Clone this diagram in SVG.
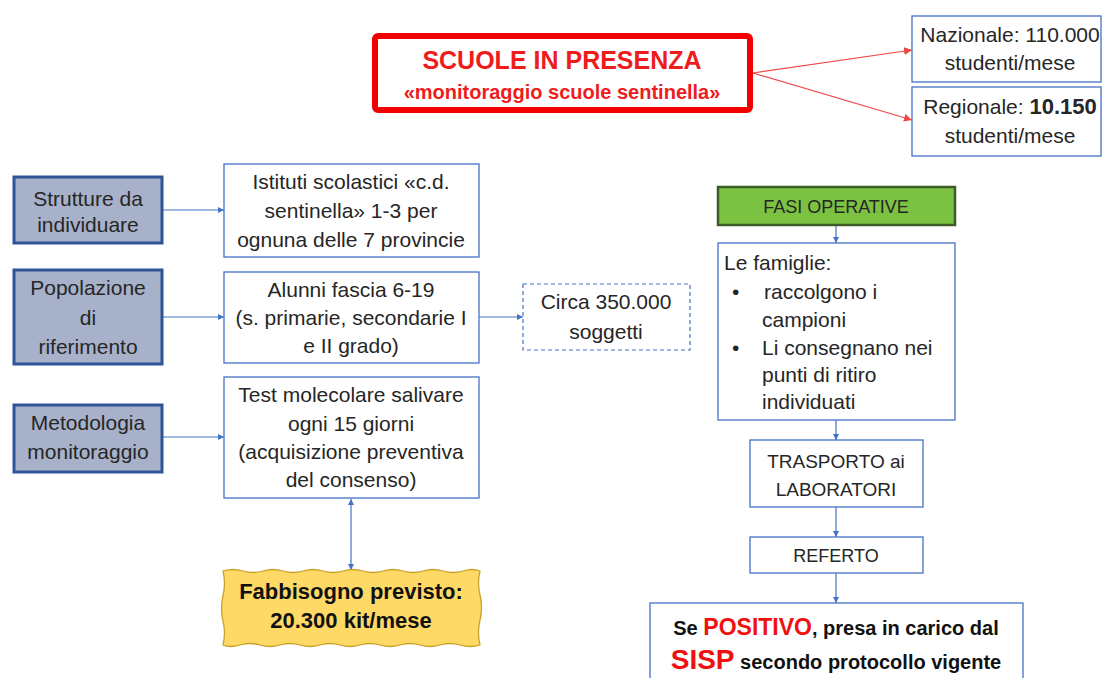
<svg xmlns="http://www.w3.org/2000/svg" width="1104" height="678" viewBox="0 0 1104 678">
<style>
text{font-family:"Liberation Sans",Arial,sans-serif;fill:#262626;text-anchor:middle}
.b{fill:#fff;stroke:#4472C4;stroke-width:1.3}
.g{fill:#A7B1CA;stroke:#2F5597;stroke-width:3}
.t21{font-size:21px}
.c{stroke:#4472C4;stroke-width:1.2;fill:none;marker-end:url(#ab)}
.r{stroke:#F04848;stroke-width:1.2;fill:none;marker-end:url(#ar)}
</style>
<defs>
<marker id="ab" viewBox="0 0 10 10" refX="10" refY="5" markerWidth="6" markerHeight="6" markerUnits="userSpaceOnUse" orient="auto-start-reverse"><path d="M0,0L10,5L0,10z" fill="#4472C4"/></marker>
<marker id="ar" viewBox="0 0 10 10" refX="10" refY="5" markerWidth="8" markerHeight="8" markerUnits="userSpaceOnUse" orient="auto"><path d="M0,0L10,5L0,10z" fill="#F04848"/></marker>
</defs>
<rect width="1104" height="678" fill="#fff"/>
<g id="connectors">
<path class="r" d="M753,73L912,50"/>
<path class="r" d="M753,73L912,120"/>
<path class="c" d="M162,210H224"/>
<path class="c" d="M162,317H224"/>
<path class="c" d="M162,437H224"/>
<path class="c" d="M479,317H523"/>
<path class="c" d="M351,499V570" style="marker-start:url(#ab)"/>
<path class="c" d="M836,225V243"/>
<path class="c" d="M836,420V440"/>
<path class="c" d="M836,507V537"/>
<path class="c" d="M836,573V603"/>
</g>
<g id="title">
<rect x="375" y="36" width="375" height="74" fill="#fff" stroke="#F20000" stroke-width="6" rx="3"/>
<text x="562" y="69" style="font-size:25px;font-weight:bold;fill:#EE1C1C">SCUOLE IN PRESENZA</text>
<text x="562" y="99" style="font-size:20px;font-weight:bold;fill:#EE1C1C">«monitoraggio scuole sentinella»</text>
</g>
<g id="nazionale">
<rect class="b" x="912" y="16" width="189" height="66"/>
<text class="t21" x="1010" y="42">Nazionale: 110.000</text>
<text class="t21" x="1010" y="70">studenti/mese</text>
</g>
<g id="regionale">
<rect class="b" x="912" y="87" width="189" height="69"/>
<text class="t21" x="1010" y="114">Regionale: <tspan style="font-weight:bold;font-size:22px">10.150</tspan></text>
<text class="t21" x="1010" y="143">studenti/mese</text>
</g>
<g id="strutture">
<rect class="g" x="14" y="177" width="148" height="66"/>
<text class="t21" x="88" y="206">Strutture da</text>
<text class="t21" x="88" y="232">individuare</text>
</g>
<g id="popolazione">
<rect class="g" x="14" y="270" width="148" height="94"/>
<text class="t21" x="88" y="295">Popolazione</text>
<text class="t21" x="88" y="325">di</text>
<text class="t21" x="88" y="354">riferimento</text>
</g>
<g id="metodologia">
<rect class="g" x="14" y="405" width="148" height="67"/>
<text class="t21" x="88" y="430">Metodologia</text>
<text class="t21" x="88" y="459">monitoraggio</text>
</g>
<g id="istituti">
<rect class="b" x="224" y="164" width="255" height="93"/>
<text class="t21" x="351" y="189">Istituti scolastici «c.d.</text>
<text class="t21" x="351" y="218">sentinella» 1-3 per</text>
<text class="t21" x="351" y="247">ognuna delle 7 provincie</text>
</g>
<g id="alunni">
<rect class="b" x="224" y="272" width="255" height="91"/>
<text class="t21" x="351" y="297">Alunni fascia 6-19</text>
<text class="t21" x="351" y="325">(s. primarie, secondarie I</text>
<text class="t21" x="351" y="353">e II grado)</text>
</g>
<g id="test">
<rect class="b" x="224" y="377" width="255" height="121"/>
<text class="t21" x="351" y="402">Test molecolare salivare</text>
<text class="t21" x="351" y="431">ogni 15 giorni</text>
<text class="t21" x="351" y="459">(acquisizione preventiva</text>
<text class="t21" x="351" y="487">del consenso)</text>
</g>
<g id="circa">
<rect x="523" y="284" width="167" height="66" fill="#fff" stroke="#4472C4" stroke-width="1.2" stroke-dasharray="4,3"/>
<text class="t21" x="606" y="309">Circa 350.000</text>
<text class="t21" x="606" y="339">soggetti</text>
</g>
<g id="fabbisogno">
<path d="M223,571 q10,-3 20,0 t20,0 t20,0 t20,0 t20,0 t20,0 t20,0 t20,0 t20,0 t20,0 t20,0 t20,0 t17,0 q-3,12 0,24 t0,25 t0,25 q-10,3 -20,0 t-20,0 t-20,0 t-20,0 t-20,0 t-20,0 t-20,0 t-20,0 t-20,0 t-20,0 t-20,0 t-20,0 t-17,0 q3,-12 0,-24 t0,-25 t0,-25z" fill="#FFD966" stroke="#C9A227" stroke-width="1.3"/>
<text x="351" y="599" style="font-size:22px;font-weight:bold;fill:#111">Fabbisogno previsto:</text>
<text x="351" y="628" style="font-size:22px;font-weight:bold;fill:#111">20.300 kit/mese</text>
</g>
<g id="fasi">
<rect x="718" y="187" width="237" height="38" fill="#7CC242" stroke="#3D5C27" stroke-width="2.5"/>
<text x="836" y="213" style="font-size:18px">FASI OPERATIVE</text>
</g>
<g id="famiglie">
<rect class="b" x="718" y="243" width="237" height="177"/>
<g style="text-anchor:start">
<text class="t21" x="724" y="270" style="text-anchor:start">Le famiglie:</text>
<text class="t21" x="732" y="299" style="text-anchor:start">•</text>
<text class="t21" x="764" y="299" style="text-anchor:start">raccolgono i</text>
<text class="t21" x="762" y="327" style="text-anchor:start">campioni</text>
<text class="t21" x="732" y="355" style="text-anchor:start">•</text>
<text class="t21" x="762" y="355" style="text-anchor:start">Li consegnano nei</text>
<text class="t21" x="762" y="382" style="text-anchor:start">punti di ritiro</text>
<text class="t21" x="762" y="409" style="text-anchor:start">individuati</text>
</g>
</g>
<g id="trasporto">
<rect class="b" x="750" y="440" width="173" height="67"/>
<text x="836" y="468" style="font-size:19px">TRASPORTO ai</text>
<text x="836" y="496" style="font-size:19px">LABORATORI</text>
</g>
<g id="referto">
<rect class="b" x="750" y="537" width="173" height="36"/>
<text x="836" y="562" style="font-size:18px">REFERTO</text>
</g>
<g id="positivo">
<rect class="b" x="650" y="603" width="373" height="90"/>
<text x="836" y="635" style="font-size:20px;font-weight:bold;fill:#111">Se <tspan style="fill:#F01010;font-size:23px">POSITIVO</tspan>, presa in carico dal</text>
<text x="836" y="669" style="font-size:20px;font-weight:bold;fill:#111"><tspan style="fill:#F01010;font-size:28px">SISP</tspan> secondo protocollo vigente</text>
</g>
</svg>
